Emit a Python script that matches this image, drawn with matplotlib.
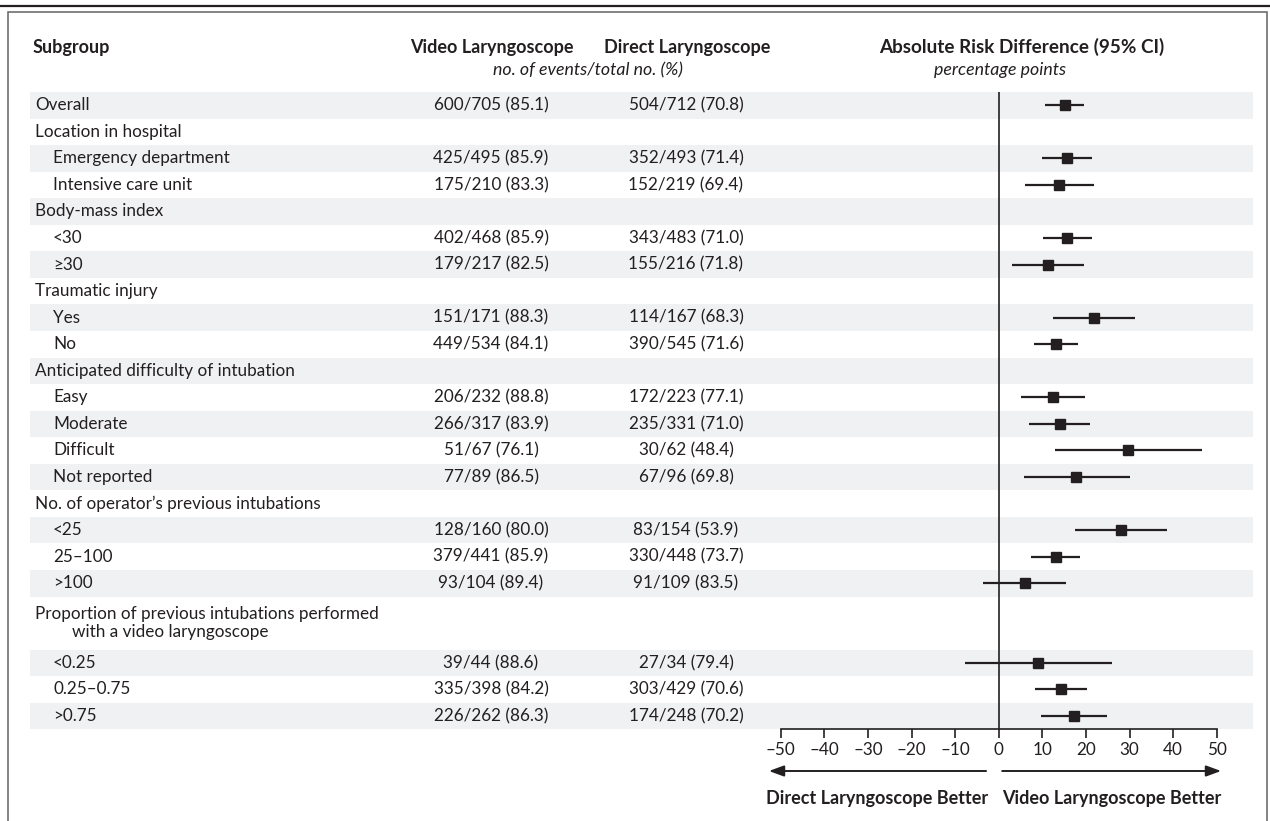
import matplotlib
matplotlib.use("Agg")
import matplotlib.pyplot as plt
from matplotlib.patches import Rectangle
from matplotlib.lines import Line2D
from matplotlib.ticker import FixedLocator, FuncFormatter

plt.rcParams['font.family'] = ['Lato', 'DejaVu Sans']

# ---------------- data ----------------
labels = ["Overall", "Location in hospital", "Emergency department", "Intensive care unit",
          "Body-mass index", "<30", "\u226530", "Traumatic injury", "Yes", "No",
          "Anticipated difficulty of intubation", "Easy", "Moderate", "Difficult", "Not reported",
          "No. of operator\u2019s previous intubations", "<25", "25\u2013100", ">100",
          "Proportion of previous intubations performed", "<0.25", "0.25\u20130.75", ">0.75"]
label_cont = {19: "with a video laryngoscope"}
levels = [0, 0, 1, 1, 0, 1, 1, 0, 1, 1, 0, 1, 1, 1, 1, 0, 1, 1, 1, 0, 1, 1, 1]
spans = [1] * 19 + [2] + [1, 1, 1]
video = ["600/705 (85.1)", "", "425/495 (85.9)", "175/210 (83.3)", "", "402/468 (85.9)",
         "179/217 (82.5)", "", "151/171 (88.3)", "449/534 (84.1)", "", "206/232 (88.8)",
         "266/317 (83.9)", "51/67 (76.1)", "77/89 (86.5)", "", "128/160 (80.0)",
         "379/441 (85.9)", "93/104 (89.4)", "", "39/44 (88.6)", "335/398 (84.2)", "226/262 (86.3)"]
direct = ["504/712 (70.8)", "", "352/493 (71.4)", "152/219 (69.4)", "", "343/483 (71.0)",
          "155/216 (71.8)", "", "114/167 (68.3)", "390/545 (71.6)", "", "172/223 (77.1)",
          "235/331 (71.0)", "30/62 (48.4)", "67/96 (69.8)", "", "83/154 (53.9)",
          "330/448 (73.7)", "91/109 (83.5)", "", "27/34 (79.4)", "303/429 (70.6)", "174/248 (70.2)"]
est = [15.2, None, 15.6, 13.8, None, 15.6, 11.2, None, 21.9, 13.1, None, 12.5, 14.1, 29.7,
       17.7, None, 28.1, 13.1, 6.0, None, 8.9, 14.2, 17.2]
ci_lo = [10.6, None, 10.0, 6.0, None, 10.2, 3.0, None, 12.5, 8.0, None, 5.2, 7.0, 12.8,
         5.7, None, 17.6, 7.5, -3.7, None, -7.8, 8.4, 9.7]
ci_hi = [19.6, None, 21.3, 21.9, None, 21.3, 19.6, None, 31.3, 18.3, None, 19.8, 21.0, 46.6,
         30.0, None, 38.5, 18.7, 15.4, None, 25.9, 20.2, 24.9]
ticks = [-50, -40, -30, -20, -10, 0, 10, 20, 30, 40, 50]

# ---------------- layout ----------------
W, H = 1270, 821
TXT = '#231f20'
BAND = '#f0f1f3'
FS = 12.3      # regular
FSB = 13.0     # bold
FSI = 12.8     # italic

fig = plt.figure(figsize=(W / 100, H / 100), dpi=100)

def fx(px):
    return px / W

def fy(py):
    return 1 - py / H

top_px, bot_px = 92.0, 729.3
x0_px, x1_px = 780.7, 1216.7
n_units = sum(spans)

ax_bg = fig.add_axes([0, fy(bot_px), 1, (bot_px - top_px) / H])
ax_bg.set_xlim(0, W)
ax_bg.set_ylim(n_units, 0)
ax_bg.axis('off')

ax = fig.add_axes([fx(x0_px), fy(bot_px), (x1_px - x0_px) / W, (bot_px - top_px) / H])
ax.set_xlim(-50, 50)
ax.set_ylim(n_units, 0)
ax.patch.set_alpha(0)

# row positions
starts = []
centers = []
u = 0
for s in spans:
    starts.append(u)
    centers.append(u + s / 2)
    u += s

# bands (alternate by row)
for i, s in enumerate(spans):
    if i % 2 == 0:
        ax_bg.axhspan(starts[i], starts[i] + s, xmin=30 / W, xmax=1253 / W, color=BAND, lw=0, zorder=0)

for i, lab in enumerate(labels):
    xlab = 35 if levels[i] == 0 else 53
    if i in label_cont:
        ax_bg.text(xlab, centers[i] - 0.36, lab, fontsize=FS, color=TXT, va='center', ha='left')
        ax_bg.text(72.5, centers[i] + 0.32, label_cont[i], fontsize=FS, color=TXT, va='center', ha='left')
    else:
        ax_bg.text(xlab, centers[i], lab, fontsize=FS, color=TXT, va='center', ha='left')
    if video[i]:
        ax_bg.text(491, centers[i], video[i], fontsize=FS, color=TXT, va='center', ha='center')
    if direct[i]:
        ax_bg.text(686, centers[i], direct[i], fontsize=FS, color=TXT, va='center', ha='center')

# forest marks
ys = [centers[i] for i in range(len(est)) if est[i] is not None]
e = [v for v in est if v is not None]
l = [v for v in ci_lo if v is not None]
h = [v for v in ci_hi if v is not None]
ax.hlines(ys, l, h, color=TXT, lw=1.6, zorder=3)
ax.plot(e, ys, 's', color=TXT, ms=7.6, zorder=4)
ax.axvline(0, color=TXT, lw=1.2, zorder=2)

for sp in ['top', 'left', 'right']:
    ax.spines[sp].set_visible(False)
ax.spines['bottom'].set_linewidth(1.2)
ax.spines['bottom'].set_color(TXT)
ax.xaxis.set_major_locator(FixedLocator(ticks))
ax.xaxis.set_major_formatter(FuncFormatter(lambda v, p: ('\u2013%d' % abs(v)) if v < 0 else '%d' % v))
ax.tick_params(axis='x', direction='out', length=6.5, width=1.2, color=TXT,
               labelsize=FS, labelcolor=TXT, pad=2.5)
ax.set_yticks([])

# arrows
ya = -(771 - bot_px) / (bot_px - top_px)
yl = -(798 - bot_px) / (bot_px - top_px)
apr = dict(arrowstyle='-|>,head_length=0.6,head_width=0.22', mutation_scale=15, lw=1.4,
           color=TXT, shrinkA=0, shrinkB=0)
ax.annotate('', xy=(-52.7, ya), xytext=(-2.9, ya), xycoords=('data', 'axes fraction'),
            textcoords=('data', 'axes fraction'), arrowprops=apr, annotation_clip=False)
ax.annotate('', xy=(51.0, ya), xytext=(0.8, ya), xycoords=('data', 'axes fraction'),
            textcoords=('data', 'axes fraction'), arrowprops=apr, annotation_clip=False)
ax.annotate('Direct Laryngoscope Better', xy=(-27.8, yl), xycoords=('data', 'axes fraction'),
            ha='center', va='center', fontsize=FSB, fontweight='bold', color=TXT, annotation_clip=False)
ax.annotate('Video Laryngoscope Better', xy=(25.9, yl), xycoords=('data', 'axes fraction'),
            ha='center', va='center', fontsize=FSB, fontweight='bold', color=TXT, annotation_clip=False)

# headers
fig.text(fx(33), fy(47), 'Subgroup', fontsize=FSB, fontweight='bold', color=TXT, ha='left', va='center')
fig.text(fx(492), fy(47), 'Video Laryngoscope', fontsize=FSB, fontweight='bold', color=TXT, ha='center', va='center')
fig.text(fx(687), fy(47), 'Direct Laryngoscope', fontsize=FSB, fontweight='bold', color=TXT, ha='center', va='center')
fig.text(fx(588), fy(70), 'no. of events/total no. (%)', fontsize=FSI, style='italic', color=TXT, ha='center', va='center')
fig.text(fx(1022), fy(47), 'Absolute Risk Difference (95% CI)', fontsize=13.6, fontweight='bold', color=TXT, ha='center', va='center')
fig.text(fx(1000), fy(70), 'percentage points', fontsize=FSI, style='italic', color=TXT, ha='center', va='center')

# frame
fig.add_artist(Line2D([0, 1], [fy(5.7), fy(5.7)], transform=fig.transFigure, color=TXT, lw=1.6))
fig.add_artist(Rectangle((fx(8.3), fy(840)), fx(1266.7) - fx(8.3), fy(12.3) - fy(840),
                         transform=fig.transFigure, fill=False, edgecolor='#6d6e71', lw=1.2))

fig.savefig('out.png', dpi=100)
